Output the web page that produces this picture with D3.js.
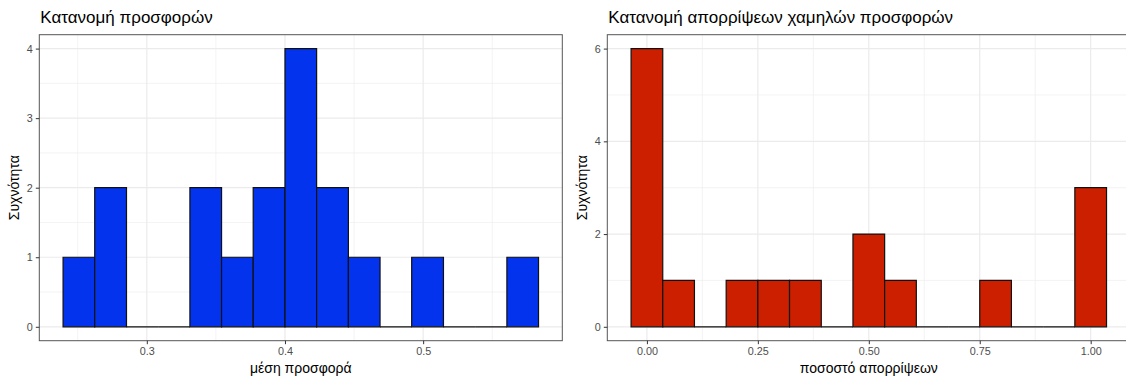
<!DOCTYPE html>
<html>
<head>
<meta charset="utf-8">
<script src="https://cdn.jsdelivr.net/npm/d3@7"></script>
<style>
  html, body { margin: 0; padding: 0; background: #fff; }
  svg { display: block; font-family: "Liberation Sans", Arial, Helvetica, sans-serif; }
</style>
</head>
<body>
<svg id="chart" width="1126" height="376"></svg>
<script>
// ---- Data ----
const offerBinEdges = [0.2394, 0.2623, 0.2853, 0.3082, 0.3312, 0.3541, 0.3770, 0.4000,
                       0.4229, 0.4459, 0.4688, 0.4917, 0.5147, 0.5376, 0.5606, 0.5835];
const offerCounts   = [1, 2, 0, 0, 2, 1, 2, 4, 2, 1, 0, 1, 0, 0, 1];
const offerXTicks   = [0.3, 0.4, 0.5];
const offerXMinor   = [0.25, 0.35, 0.45, 0.55];
const offerYTicks   = [0, 1, 2, 3, 4];
const offerYMinor   = [0.5, 1.5, 2.5, 3.5];

const rejectBinEdges = [-0.0357, 0.0357, 0.1071, 0.1786, 0.2500, 0.3214, 0.3929, 0.4643,
                        0.5357, 0.6071, 0.6786, 0.7500, 0.8214, 0.8929, 0.9643, 1.0357];
const rejectCounts   = [6, 1, 0, 1, 1, 1, 0, 2, 1, 0, 0, 1, 0, 0, 3];
const rejectXTicks   = [0, 0.25, 0.5, 0.75, 1.0];
const rejectXLabels  = ["0.00", "0.25", "0.50", "0.75", "1.00"];
const rejectXMinor   = [0.125, 0.375, 0.625, 0.875];
const rejectYTicks   = [0, 2, 4, 6];
const rejectYMinor   = [1, 3, 5];

const titles  = ["Κατανομή προσφορών", "Κατανομή απορρίψεων χαμηλών προσφορών"];
const xTitles = ["μέση προσφορά", "ποσοστό απορρίψεων"];
const yTitle  = "Συχνότητα";

// ---- Layout ----
const svg = d3.select("#chart");
const panelTop = 34.7, panelBottom = 340.7, panelW = 523;

function drawPanel(opt) {
  const edges = opt.edges, counts = opt.counts;
  const lo = edges[0], hi = edges[edges.length - 1];
  const padX = (hi - lo) * 0.05;
  const maxC = d3.max(counts);
  const x = d3.scaleLinear().domain([lo - padX, hi + padX]).range([opt.left, opt.left + panelW]);
  const y = d3.scaleLinear().domain([-maxC * 0.05, maxC * 1.05]).range([panelBottom, panelTop]);

  const g = svg.append("g");
  const clipId = "clip" + opt.id;
  svg.append("clipPath").attr("id", clipId).append("rect")
    .attr("x", opt.left).attr("y", panelTop).attr("width", panelW).attr("height", panelBottom - panelTop);

  const grid = g.append("g").attr("clip-path", `url(#${clipId})`);
  // minor grid
  grid.selectAll(".vminor").data(opt.xMinor).join("line")
    .attr("x1", d => x(d)).attr("x2", d => x(d)).attr("y1", panelTop).attr("y2", panelBottom)
    .attr("stroke", "#EBEBEB").attr("stroke-width", 0.6);
  grid.selectAll(".hminor").data(opt.yMinor).join("line")
    .attr("x1", opt.left).attr("x2", opt.left + panelW).attr("y1", d => y(d)).attr("y2", d => y(d))
    .attr("stroke", "#EBEBEB").attr("stroke-width", 0.6);
  // major grid
  grid.selectAll(".vmajor").data(opt.xTicks).join("line")
    .attr("x1", d => x(d)).attr("x2", d => x(d)).attr("y1", panelTop).attr("y2", panelBottom)
    .attr("stroke", "#EBEBEB").attr("stroke-width", 1.2);
  grid.selectAll(".hmajor").data(opt.yTicks).join("line")
    .attr("x1", opt.left).attr("x2", opt.left + panelW).attr("y1", d => y(d)).attr("y2", d => y(d))
    .attr("stroke", "#EBEBEB").attr("stroke-width", 1.2);

  // bars (zero-count bins drawn as a flat outline at y = 0)
  const bins = counts.map((c, i) => ({ x0: edges[i], x1: edges[i + 1], c }));
  grid.selectAll(".bar").data(bins).join("path")
    .attr("d", d => {
      const x0 = x(d.x0), x1 = x(d.x1), y0 = y(0), y1 = y(d.c);
      return `M${x0},${y0}L${x0},${y1}L${x1},${y1}L${x1},${y0}Z`;
    })
    .attr("fill", opt.fill).attr("stroke", "#111").attr("stroke-width", 1.2)
    .attr("stroke-linejoin", "miter");

  // panel border
  g.append("rect").attr("x", opt.left).attr("y", panelTop).attr("width", panelW)
    .attr("height", panelBottom - panelTop).attr("fill", "none")
    .attr("stroke", "#555").attr("stroke-width", 1);

  // axes
  const xAxis = d3.axisBottom(x).tickValues(opt.xTicks).tickSize(3.5).tickPadding(3)
    .tickFormat((d, i) => opt.xLabels ? opt.xLabels[i] : d3.format(".1f")(d));
  const ax = g.append("g").attr("transform", `translate(0,${panelBottom})`).call(xAxis);
  const yAxis = d3.axisLeft(y).tickValues(opt.yTicks).tickSize(3.5).tickPadding(3).tickFormat(d3.format("d"));
  const ay = g.append("g").attr("transform", `translate(${opt.left},0)`).call(yAxis);
  [ax, ay].forEach(a => {
    a.select(".domain").remove();
    a.selectAll(".tick line").attr("stroke", "#333").attr("stroke-width", 1);
    a.selectAll(".tick text").attr("fill", "#4D4D4D").style("font-size", "10.8px");
  });

  // titles
  svg.append("text").attr("x", opt.left + 1).attr("y", 23)
    .attr("fill", "#000").style("font-size", "17px").text(opt.title);
  svg.append("text").attr("x", opt.left + panelW / 2).attr("y", 373)
    .attr("text-anchor", "middle").attr("fill", "#000").style("font-size", "14px").text(opt.xTitle);
  svg.append("text")
    .attr("transform", `translate(${opt.left - 20},${(panelTop + panelBottom) / 2}) rotate(-90)`)
    .attr("text-anchor", "middle").attr("fill", "#000").style("font-size", "14px").text(yTitle);
}

drawPanel({ id: 1, left: 39.3, edges: offerBinEdges, counts: offerCounts, fill: "#0433EE",
  xTicks: offerXTicks, xMinor: offerXMinor, yTicks: offerYTicks, yMinor: offerYMinor,
  title: titles[0], xTitle: xTitles[0] });
drawPanel({ id: 2, left: 607.3, edges: rejectBinEdges, counts: rejectCounts, fill: "#CC1F00",
  xTicks: rejectXTicks, xLabels: rejectXLabels, xMinor: rejectXMinor, yTicks: rejectYTicks, yMinor: rejectYMinor,
  title: titles[1], xTitle: xTitles[1] });
</script>
</body>
</html>
